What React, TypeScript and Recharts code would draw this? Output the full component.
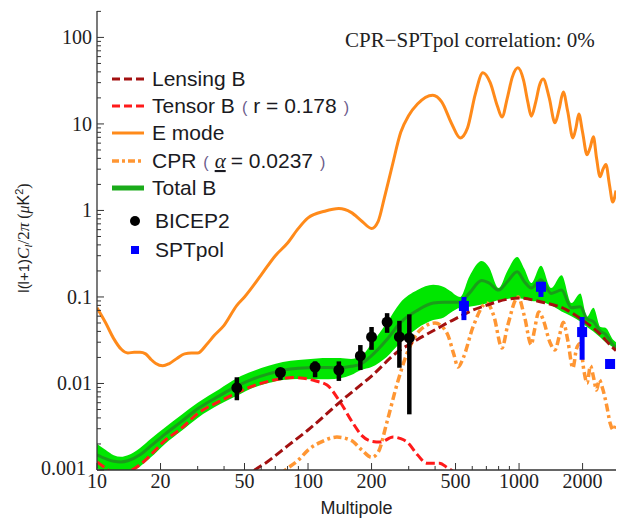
import React from 'react';
import { ComposedChart, Line, Area, Scatter, XAxis, YAxis, ErrorBar } from 'recharts';

// ---------- data ----------
const eL = [10, 11, 12, 13, 14, 15, 16, 17, 18, 19, 20.5, 22, 24, 26, 28, 30, 33, 36, 40, 46, 50, 60, 70, 80, 90, 100, 120, 140, 160, 180, 200, 215, 230, 250, 275, 300, 330, 390, 430, 480, 526, 570, 620, 674, 730, 790, 830, 880, 930, 987, 1050, 1100, 1143, 1200, 1250, 1300, 1390, 1480, 1550, 1620, 1700, 1800, 1860, 1920, 2000, 2100, 2180, 2250, 2330, 2420, 2500, 2580, 2680, 2780, 2880];
const eV = [0.075, 0.05, 0.033, 0.025, 0.0225, 0.023, 0.023, 0.022, 0.019, 0.017, 0.016, 0.017, 0.0196, 0.022, 0.0225, 0.0225, 0.028, 0.036, 0.047, 0.08, 0.1, 0.18, 0.3, 0.42, 0.62, 0.82, 0.98, 1.05, 0.95, 0.75, 0.62, 0.75, 1.4, 3.2, 8, 12.5, 17, 21.5, 18, 10, 6.9, 9, 22, 39, 30, 16, 12, 20, 35, 44.5, 32, 18, 12.3, 18, 28, 33, 20, 10.3, 15, 23.4, 14, 6.9, 9, 13, 8, 4.4, 5.5, 7.1, 4, 2.45, 3, 3.4, 2, 1.25, 1.7];

const lensL = [50, 56, 64, 80, 100, 146, 200, 273, 300, 350, 423, 456, 514, 600, 700, 877, 1012, 1260, 1680, 2000, 2400, 2755, 2880];
const lensV = [0.00078, 0.001, 0.00124, 0.0019, 0.0029, 0.0065, 0.0122, 0.0244, 0.028, 0.035, 0.045, 0.05, 0.058, 0.07, 0.08, 0.094, 0.097, 0.088, 0.071, 0.054, 0.038, 0.0265, 0.024];

const tensL = [10, 11, 12, 13, 14, 16, 18, 21, 25, 30, 38, 46, 55, 65, 75, 85, 95, 110, 123, 142, 163, 180, 200, 220, 253, 275, 295, 330, 365, 420, 460, 490, 520];
const tensV = [0.00124, 0.00105, 0.00092, 0.0009, 0.00095, 0.00115, 0.0015, 0.0022, 0.003, 0.0045, 0.0062, 0.0078, 0.0094, 0.0106, 0.0114, 0.0117, 0.0115, 0.0106, 0.0096, 0.0061, 0.0035, 0.0025, 0.00215, 0.0021, 0.0024, 0.0023, 0.0021, 0.0015, 0.0012, 0.0012, 0.00105, 0.00095, 0.0008];

const cprL = [70, 78, 90, 100, 115, 137, 160, 180, 200, 215, 236, 265, 295, 340, 400, 456, 490, 514, 545, 605, 704, 760, 830, 880, 990, 1060, 1143, 1180, 1240, 1300, 1400, 1480, 1550, 1620, 1700, 1800, 1870, 1945, 2030, 2100, 2180, 2250, 2330, 2400, 2480, 2600, 2700, 2800, 2880];
const cprV = [0.0008, 0.001, 0.0013, 0.0017, 0.0021, 0.0024, 0.0022, 0.0017, 0.0014, 0.0016, 0.0035, 0.0101, 0.0225, 0.0415, 0.05, 0.038, 0.022, 0.0155, 0.02, 0.045, 0.085, 0.06, 0.0257, 0.045, 0.1, 0.06, 0.028, 0.04, 0.067, 0.055, 0.03, 0.0244, 0.035, 0.051, 0.032, 0.0151, 0.025, 0.029, 0.014, 0.0101, 0.016, 0.012, 0.0084, 0.011, 0.009, 0.0056, 0.0035, 0.0029, 0.0035];

const bandL = [10, 11, 12, 13, 14, 16, 18, 21, 25, 30, 38, 46, 55, 65, 76, 90, 110, 125, 142, 160, 178, 200, 236, 273, 330, 392, 440, 470, 526, 580, 665, 720, 800, 880, 980, 1060, 1143, 1270, 1420, 1590, 1770, 1950, 2100, 2250, 2430, 2570, 2790, 2880];
const bandLo = [0.00105, 0.00095, 0.00088, 0.00088, 0.00092, 0.0011, 0.0014, 0.002, 0.0028, 0.004, 0.0057, 0.0072, 0.0089, 0.0101, 0.011, 0.0113, 0.0112, 0.0112, 0.0115, 0.0125, 0.0143, 0.0155, 0.0203, 0.0294, 0.0436, 0.054, 0.058, 0.065, 0.075, 0.077, 0.082, 0.085, 0.092, 0.095, 0.097, 0.094, 0.09, 0.088, 0.08, 0.068, 0.06, 0.052, 0.045, 0.04, 0.034, 0.03, 0.026, 0.024];
const bandMid = [0.0015, 0.00135, 0.00126, 0.00124, 0.00128, 0.0015, 0.0019, 0.0026, 0.0036, 0.0051, 0.0072, 0.0093, 0.0113, 0.0129, 0.0142, 0.015, 0.0153, 0.0153, 0.0152, 0.0158, 0.0168, 0.021, 0.032, 0.05, 0.07, 0.085, 0.087, 0.087, 0.087, 0.11, 0.155, 0.145, 0.12, 0.15, 0.195, 0.15, 0.127, 0.158, 0.11, 0.12, 0.075, 0.077, 0.056, 0.052, 0.04, 0.037, 0.028, 0.026];
const bandHi = [0.002, 0.0017, 0.00148, 0.00142, 0.00148, 0.0018, 0.0023, 0.0031, 0.0043, 0.006, 0.0086, 0.0115, 0.0139, 0.016, 0.0177, 0.0187, 0.0195, 0.0197, 0.0197, 0.0192, 0.0205, 0.029, 0.05, 0.085, 0.12, 0.138, 0.13, 0.118, 0.1, 0.17, 0.26, 0.22, 0.127, 0.2, 0.29, 0.21, 0.145, 0.23, 0.127, 0.178, 0.085, 0.11, 0.059, 0.075, 0.045, 0.044, 0.032, 0.03];

const bicepL = [46, 74, 108, 140, 177, 200, 237, 271, 302];
const bicepV = [0.0089, 0.0134, 0.0155, 0.0143, 0.0208, 0.0345, 0.0513, 0.0345, 0.0336];
const bicepLo = [0.0064, 0.011, 0.0118, 0.0107, 0.0143, 0.0245, 0.0385, 0.0152, 0.0044];
const bicepHi = [0.0118, 0.0151, 0.018, 0.018, 0.0278, 0.045, 0.065, 0.053, 0.063];

const sptL = [548, 1270, 1990, 2700];
const sptV = [0.0787, 0.131, 0.0393, 0.0168];
const sptLo = [0.054, 0.1, 0.0188, 0.0168];
const sptHi = [0.1, 0.15, 0.0587, 0.0168];

const xMajor = [10, 20, 50, 100, 200, 500, 1000, 2000];
const xMinor = [30, 40, 60, 70, 80, 90, 300, 400, 600, 700, 800, 900];
const yMajor = [0.001, 0.01, 0.1, 1, 10, 100];
const yMinorMult = [2, 3, 4, 5, 6, 7, 8, 9];

const xDomain = [10, 2880];
const yDomain = [0.001, 202];

// ---------- tables ----------
const toLine = (ls: number[], vs: number[]) => ls.map((l, i) => ({ l, v: vs[i] }));
const eData = toLine(eL, eV);
const lensData = toLine(lensL, lensV);
const tensData = toLine(tensL, tensV);
const cprData = toLine(cprL, cprV);
const bandData = bandL.map((l, i) => ({ l, band: [bandLo[i], bandHi[i]], mid: bandMid[i] }));
const bicepData = bicepL.map((l, i) => ({ l, v: bicepV[i], err: [bicepV[i] - bicepLo[i], bicepHi[i] - bicepV[i]] }));
const sptData = sptL.map((l, i) => ({ l, v: sptV[i], err: [sptV[i] - sptLo[i], sptHi[i] - sptV[i]] }));

const xTicks = [...xMajor, ...xMinor].sort((a, b) => a - b);
const yTicks: number[] = [];
yMajor.forEach((d) => {
  yTicks.push(d);
  yMinorMult.forEach((m) => {
    const v = +(d * m).toPrecision(3);
    if (v <= yDomain[1]) yTicks.push(v);
  });
});

const tickFont = 'Liberation Serif, Times New Roman, serif';
const sans = 'Liberation Sans, Arial, Helvetica, sans-serif';
const frame = '#333';

const XTickB = (p: any) => {
  const major = xMajor.includes(p.payload.value);
  return (
    <g>
      <line x1={p.x} x2={p.x} y1={p.y} y2={p.y - (major ? 7 : 4)} stroke={frame} strokeWidth={1} />
      {major && (
        <text x={p.x} y={p.y + 18} textAnchor="middle" fontFamily={tickFont} fontSize={20} fill="#222">
          {p.payload.value}
        </text>
      )}
    </g>
  );
};
const XTickT = (p: any) => {
  const major = xMajor.includes(p.payload.value);
  return <line x1={p.x} x2={p.x} y1={p.y} y2={p.y + (major ? 7 : 4)} stroke={frame} strokeWidth={1} />;
};
const YTickL = (p: any) => {
  const v = p.payload.value;
  const major = yMajor.includes(v);
  const isBottom = v === yMajor[0];
  return (
    <g>
      <line x1={p.x} x2={p.x + (major ? 7 : 4)} y1={p.y} y2={p.y} stroke={frame} strokeWidth={1} />
      {major && (
        <text x={p.x - (isBottom ? 11 : 5)} y={p.y + (isBottom ? 5 : 7)} textAnchor="end" fontFamily={tickFont} fontSize={20} fill="#222">
          {String(v)}
        </text>
      )}
    </g>
  );
};
const YTickR = (p: any) => {
  const major = yMajor.includes(p.payload.value);
  return <line x1={p.x} x2={p.x - (major ? 7 : 4)} y1={p.y} y2={p.y} stroke={frame} strokeWidth={1} />;
};

const C_LENS = '#a31010';
const C_TENS = '#ff1a1a';
const C_E = '#ff8a1a';
const C_CPR = '#ff9633';
const C_BAND = '#00e600';
const C_MID = '#1f8f1f';
const C_TOT = '#1aab1a';

const Dot = (p: any) => <circle cx={p.cx} cy={p.cy} r={5.5} fill="#000" />;
const Sq = (p: any) => <rect x={p.cx - 5} y={p.cy - 5} width={10} height={10} fill="#0000ff" />;

const legendRows = [
  { label: 'Lensing B', y: 79, kind: 'line', color: C_LENS, dash: '8 4', w: 3 },
  { label: 'Tensor B', extra: 'r = 0.178', y: 106, kind: 'line', color: C_TENS, dash: '8 4', w: 3 },
  { label: 'E mode', y: 133, kind: 'line', color: C_E, dash: undefined, w: 3 },
  { label: 'CPR', extraAlpha: true, y: 161, kind: 'line', color: C_CPR, dash: '7 3 3 3', w: 3.5 },
  { label: 'Total B', y: 188, kind: 'line', color: C_TOT, dash: undefined, w: 5 },
  { label: 'BICEP2', y: 221, kind: 'dot', color: '#000' },
  { label: 'SPTpol', y: 250, kind: 'sq', color: '#0000ff' },
];

export default function App() {
  return (
    <div style={{ position: 'absolute', left: 0, top: 0, width: 617, height: 518, background: '#fff' }}>
      <ComposedChart width={617} height={518} margin={{ top: 11, right: 1, bottom: 0, left: 0 }}>
        <XAxis
          xAxisId="b"
          dataKey="l"
          type="number"
          scale="log"
          domain={xDomain}
          allowDataOverflow
          ticks={xTicks}
          interval={0}
          tick={XTickB}
          tickLine={false}
          tickSize={0}
          tickMargin={0}
          height={48}
          axisLine={{ stroke: frame, strokeWidth: 1.3 }}
          label={{ value: 'Multipole', position: 'insideBottom', offset: 4, fontFamily: sans, fontSize: 18, fill: '#222' }}
        />
        <XAxis
          xAxisId="t"
          orientation="top"
          dataKey="l"
          type="number"
          scale="log"
          domain={xDomain}
          allowDataOverflow
          ticks={xTicks}
          interval={0}
          tick={XTickT}
          tickLine={false}
          tickSize={0}
          tickMargin={0}
          height={0}
          axisLine={{ stroke: frame, strokeWidth: 1.3 }}
        />
        <YAxis
          yAxisId="l"
          type="number"
          scale="log"
          domain={yDomain}
          allowDataOverflow
          ticks={yTicks}
          interval={0}
          tick={YTickL}
          tickLine={false}
          tickSize={0}
          tickMargin={0}
          width={97}
          axisLine={{ stroke: frame, strokeWidth: 1.3 }}
        />
        <YAxis
          yAxisId="r"
          orientation="right"
          type="number"
          scale="log"
          domain={yDomain}
          allowDataOverflow
          ticks={yTicks}
          interval={0}
          tick={YTickR}
          tickLine={false}
          tickSize={0}
          tickMargin={0}
          width={0}
          axisLine={{ stroke: frame, strokeWidth: 1.3 }}
        />
        <Area xAxisId="b" yAxisId="l" data={bandData} dataKey="band" type="monotone" stroke="none" fill={C_BAND} fillOpacity={1} dot={false} activeDot={false} isAnimationActive={false} />
        <Line xAxisId="b" yAxisId="l" data={bandData} dataKey="mid" type="monotone" stroke={C_MID} strokeOpacity={0.85} strokeWidth={3} dot={false} activeDot={false} isAnimationActive={false} />
        <Line xAxisId="b" yAxisId="l" data={eData} dataKey="v" type="monotone" stroke={C_E} strokeWidth={3} dot={false} activeDot={false} isAnimationActive={false} />
        <Line xAxisId="b" yAxisId="l" data={cprData} dataKey="v" type="monotone" stroke={C_CPR} strokeWidth={3.5} strokeDasharray="8 3.5 3 3.5" dot={false} activeDot={false} isAnimationActive={false} />
        <Line xAxisId="b" yAxisId="l" data={tensData} dataKey="v" type="monotone" stroke={C_TENS} strokeWidth={3} strokeDasharray="9 4" dot={false} activeDot={false} isAnimationActive={false} />
        <Line xAxisId="b" yAxisId="l" data={lensData} dataKey="v" type="monotone" stroke={C_LENS} strokeWidth={3} strokeDasharray="9 4" dot={false} activeDot={false} isAnimationActive={false} />
        <Scatter xAxisId="b" yAxisId="l" data={bicepData} dataKey="v" shape={Dot} isAnimationActive={false}>
          <ErrorBar dataKey="err" direction="y" width={0} stroke="#000" strokeWidth={4.5} isAnimationActive={false} />
        </Scatter>
        <Scatter xAxisId="b" yAxisId="l" data={sptData} dataKey="v" shape={Sq} isAnimationActive={false}>
          <ErrorBar dataKey="err" direction="y" width={0} stroke="#0000ff" strokeWidth={5} isAnimationActive={false} />
        </Scatter>
      </ComposedChart>
      <svg width={617} height={518} style={{ position: 'absolute', left: 0, top: 0, pointerEvents: 'none' }}>
        <text x={345} y={47} fontFamily={tickFont} fontSize={21} fill="#222">
          CPR−SPTpol correlation: 0%
        </text>
        <text transform="translate(29,238) rotate(-90)" textAnchor="middle" fontSize={15} fill="#222" fontFamily={sans}>
          <tspan>l(l+1)</tspan>
          <tspan fontFamily={tickFont} fontStyle="italic" fontSize={17}>C</tspan>
          <tspan fontFamily={tickFont} fontStyle="italic" fontSize={11} dy={3}>l</tspan>
          <tspan fontFamily={tickFont} fontSize={17} dy={-3}>/2</tspan>
          <tspan fontFamily={tickFont} fontStyle="italic" fontSize={17}>π</tspan>
          <tspan fontFamily={tickFont} fontSize={16} dx={4}>(</tspan>
          <tspan fontFamily={tickFont} fontStyle="italic" fontSize={16}>μ</tspan>
          <tspan fontSize={16}>K</tspan>
          <tspan fontSize={11} dy={-6}>2</tspan>
          <tspan fontFamily={tickFont} fontSize={16} dy={6}>)</tspan>
        </text>
        {legendRows.map((r) => (
          <g key={r.label}>
            {r.kind === 'line' && (
              <line x1={112} x2={144} y1={r.y} y2={r.y} stroke={r.color} strokeWidth={r.w} strokeDasharray={r.dash} />
            )}
            {r.kind === 'dot' && <circle cx={135} cy={r.y} r={5} fill="#000" />}
            {r.kind === 'sq' && <rect x={131} y={r.y - 4} width={8} height={8} fill="#0000ff" />}
            <text x={r.kind === 'line' ? 152 : 155} y={r.y + 7} fontFamily={sans} fontSize={21} fill="#1a1a22">
              {r.label}
              {r.extra && (
                <>
                  <tspan fill="#6a5a8a" fontSize={16} dx={7}>(</tspan>
                  <tspan dx={6}>{r.extra}</tspan>
                  <tspan fill="#6a5a8a" fontSize={16} dx={7}>)</tspan>
                </>
              )}
              {r.extraAlpha && (
                <>
                  <tspan fill="#6a5a8a" fontSize={16} dx={7}>(</tspan>
                  <tspan dx={6} fontFamily={tickFont} fontStyle="italic" textDecoration="underline">α</tspan>
                  <tspan dx={5}>= 0.0237</tspan>
                  <tspan fill="#6a5a8a" fontSize={16} dx={7}>)</tspan>
                </>
              )}
            </text>
          </g>
        ))}
      </svg>
    </div>
  );
}
